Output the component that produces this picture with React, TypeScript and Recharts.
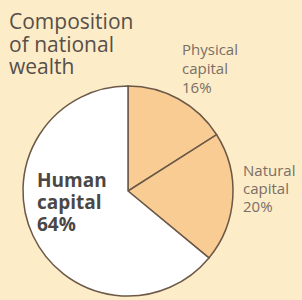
import React from "react";
import { PieChart, Pie, Cell } from "recharts";

const categories = ["Physical capital", "Natural capital", "Human capital"];
const shares = [16, 20, 64];
const fills = ["#f9cc94", "#f9cc94", "#ffffff"];

const data = categories.map((name, i) => ({ name, value: shares[i] }));

const font = "'Open Sans', 'Noto Sans', sans-serif";

export default function App() {
  return (
    <div
      style={{
        position: "absolute",
        left: 0,
        top: 0,
        width: 302,
        height: 300,
        background: "#fcecc8",
        overflow: "hidden",
        fontFamily: font,
      }}
    >
      <PieChart width={302} height={300} margin={{ top: 0, right: 0, bottom: 0, left: 0 }}>
        <Pie
          data={data}
          dataKey="value"
          nameKey="name"
          cx={128}
          cy={191}
          outerRadius={105}
          startAngle={90}
          endAngle={-270}
          stroke="#6b5847"
          strokeWidth={1.5}
          isAnimationActive={false}
        >
          {data.map((d, i) => (
            <Cell key={d.name} fill={fills[i]} />
          ))}
        </Pie>
      </PieChart>
      <div
        style={{
          position: "absolute",
          left: 9,
          top: 10,
          fontSize: 21,
          fontWeight: 500,
          lineHeight: "22.5px",
          color: "#574f49",
        }}
      >
        Composition
        <br />
        of national
        <br />
        wealth
      </div>
      <div
        style={{
          position: "absolute",
          left: 182,
          top: 40,
          fontSize: 15,
          lineHeight: "19px",
          color: "#7a6e66",
        }}
      >
        Physical
        <br />
        capital
        <br />
        16%
      </div>
      <div
        style={{
          position: "absolute",
          left: 243,
          top: 161,
          fontSize: 15,
          lineHeight: "18px",
          color: "#7a6e66",
        }}
      >
        Natural
        <br />
        capital
        <br />
        20%
      </div>
      <div
        style={{
          position: "absolute",
          left: 37,
          top: 169,
          fontSize: 19,
          fontWeight: 700,
          lineHeight: "22px",
          color: "#4a4746",
        }}
      >
        Human
        <br />
        capital
        <br />
        64%
      </div>
    </div>
  );
}
